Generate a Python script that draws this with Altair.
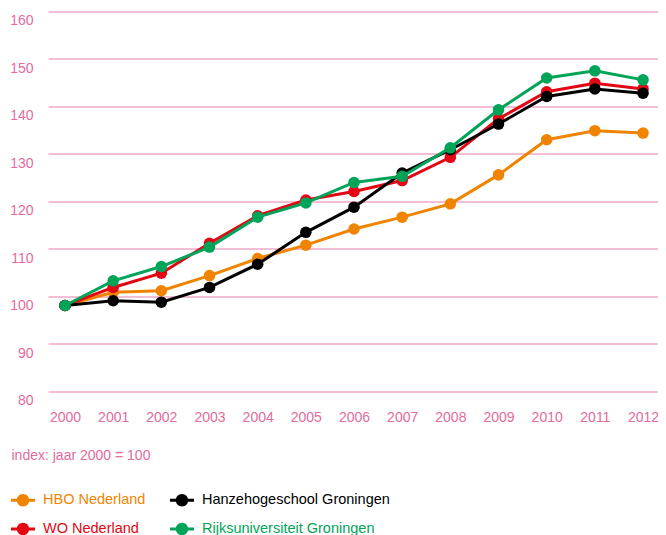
import altair as alt
import pandas as pd

# ---- data ----
years = list(range(2000, 2013))
hbo_nederland = [100, 102.8, 103.1, 106.3, 109.9, 112.7, 116.1, 118.6, 121.4, 127.5, 134.9, 136.8, 136.3]
wo_nederland = [100, 103.8, 106.8, 113.1, 118.9, 122.2, 124.0, 126.3, 131.2, 139.3, 145.0, 146.8, 145.6]
hanzehogeschool = [100, 101.0, 100.7, 103.8, 108.7, 115.4, 120.7, 127.9, 132.8, 138.2, 144.0, 145.6, 144.7]
rijksuniversiteit = [100, 105.2, 108.2, 112.3, 118.6, 121.6, 125.9, 127.2, 133.2, 141.2, 147.9, 149.4, 147.5]

series_names = ["HBO Nederland", "WO Nederland", "Hanzehogeschool Groningen", "Rijksuniversiteit Groningen"]
series_colors = ["#F08400", "#E30613", "#000000", "#00A459"]
draw_order = ["HBO Nederland", "WO Nederland", "Hanzehogeschool Groningen", "Rijksuniversiteit Groningen"]
y_ticks = [80, 90, 100, 110, 120, 130, 140, 150, 160]
axis_note = "index: jaar 2000 = 100"

values = {
    "HBO Nederland": hbo_nederland,
    "WO Nederland": wo_nederland,
    "Hanzehogeschool Groningen": hanzehogeschool,
    "Rijksuniversiteit Groningen": rijksuniversiteit,
}
rows = []
for name in draw_order:
    for yr, v in zip(years, values[name]):
        rows.append({"jaar": yr, "index": v, "serie": name})
df = pd.DataFrame(rows)

PINK = "#E66A9E"
GRID = "#EA7DAE"
FONT = "Liberation Sans"

color_map = dict(zip(series_names, series_colors))
label_expr = " : ".join(
    [f"datum.value === '{n}' ? '{c}'" for n, c in color_map.items()]
) + " : '#000000'"

SYMBOL = (
    "M-1,-0.12 L-0.42,-0.12 L-0.42,0.12 L-1,0.12 Z "
    "M0.42,-0.12 L1,-0.12 L1,0.12 L0.42,0.12 Z "
    "M0.52,0 A0.52,0.52 0 1,1 -0.52,0 A0.52,0.52 0 1,1 0.52,0 Z"
)

cscale = alt.Scale(domain=series_names, range=series_colors)

X = alt.X(
    "jaar:Q",
    scale=alt.Scale(domain=[1999.647, 2012.311], nice=False, zero=False),
    axis=alt.Axis(
        values=years, format="d", grid=False, ticks=False, domain=False,
        labelPadding=10, labelFontSize=14, labelColor=PINK, labelFont=FONT,
        title=axis_note, titleX=-37, titleY=54.5, titleAlign="left",
        titleBaseline="middle", titleAnchor="start", titleFontWeight="normal",
        titleColor=PINK, titleFontSize=14, titleFont=FONT,
    ),
)
Y = alt.Y(
    "index:Q",
    scale=alt.Scale(domain=[80, 160], nice=False, zero=False),
    axis=alt.Axis(
        values=y_ticks, grid=True, gridColor=GRID, gridWidth=1, ticks=False,
        domain=False, labelPadding=15, labelFontSize=14, labelColor=PINK,
        labelFont=FONT, tickOffset=-9.5, labelOffset=9.5, title=None,
    ),
)

legend = alt.Legend(
    title=None, orient="none", legendX=-37, legendY=467.5, columns=2,
    columnPadding=24, rowPadding=10, symbolType=SYMBOL, symbolSize=576,
    symbolStrokeWidth=0, symbolOpacity=1, labelOffset=8, labelFontSize=14.5,
    labelFont=FONT, labelLimit=300, labelColor=alt.ExprRef(label_expr),
    padding=0,
)

layers = []
for i, name in enumerate(draw_order):
    base = alt.Chart(df).transform_filter(alt.datum.serie == name)
    line = base.mark_line(strokeWidth=3).encode(
        x=X, y=Y, color=alt.Color("serie:N", scale=cscale, legend=None)
    )
    pts = base.mark_circle(size=133, opacity=1).encode(
        x=X, y=Y, color=alt.Color("serie:N", scale=cscale, legend=legend)
    )
    if i == 0:
        layers += [pts, line]
    else:
        layers += [line, pts]

chart = (
    alt.layer(*layers)
    .properties(
        width=610, height=380,
        autosize=alt.AutoSizeParams(type="none"),
        padding={"left": 40, "top": 12.5, "right": 0, "bottom": 134.5},
    )
    .configure_view(stroke=None)
)

chart.save("out.html", embed_options={"renderer": "svg", "actions": False})
